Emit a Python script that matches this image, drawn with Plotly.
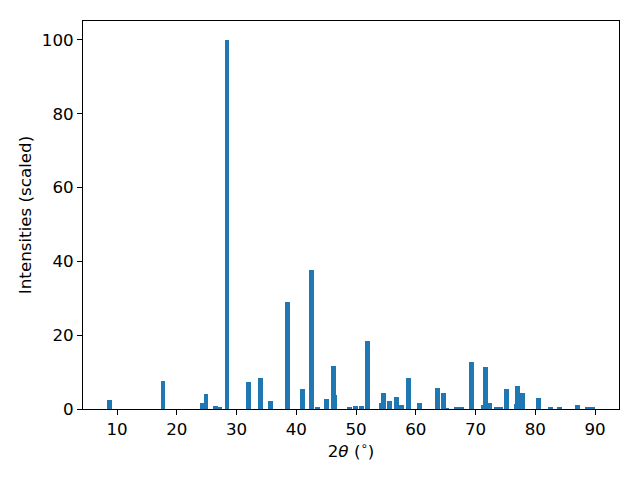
import plotly.graph_objects as go

two_theta = [8.7, 17.7, 24.3, 24.9, 26.5, 27.2, 28.4, 32.0, 34.0, 35.7, 38.5, 41.0,
             42.5, 43.6, 45.0, 46.2, 46.4, 48.9, 49.9, 50.9, 51.9, 54.25, 54.6,
             55.6, 56.7, 57.6, 58.8, 60.6, 63.6, 64.6, 65.2, 66.8, 67.6, 69.3,
             71.3, 71.7, 72.4, 73.4, 74.2, 75.2, 76.8, 77.0, 77.9, 80.5, 82.6,
             84.1, 87.0, 88.7, 89.5]
intensity = [2.4, 7.6, 1.6, 4.1, 0.8, 0.3, 100.0, 7.3, 8.4, 2.2, 29.0, 5.4,
             37.7, 0.3, 2.7, 11.7, 3.8, 0.5, 0.8, 0.8, 18.4, 1.6, 4.3,
             2.2, 3.3, 1.1, 8.4, 1.6, 5.7, 4.3, 0.2, 0.5, 0.5, 12.7,
             1.1, 11.4, 1.6, 0.3, 0.5, 5.4, 1.4, 6.2, 4.3, 3.0, 0.3,
             0.3, 1.1, 0.5, 0.5]
x_ticks = [10, 20, 30, 40, 50, 60, 70, 80, 90]
y_ticks = [0, 20, 40, 60, 80, 100]

fig = go.Figure(go.Bar(x=two_theta, y=intensity, width=0.8,
                       marker=dict(color="#1f77b4", line=dict(width=0))))

axis_common = dict(showline=True, linecolor="black", linewidth=1, mirror=True,
                   ticks="outside", ticklen=5, tickcolor="black", showgrid=False,
                   zeroline=False, automargin=False,
                   tickfont=dict(size=16.7, color="black"))
fig.update_xaxes(range=[4.3, 94.0], tickvals=x_ticks,
                 title=dict(text="2<i>θ</i> (<sup>∘</sup>)", font=dict(size=16.7, color="black"), standoff=7),
                 **axis_common)
fig.update_yaxes(range=[0, 105.1], tickvals=y_ticks,
                 title=dict(text="Intensities (scaled)", font=dict(size=16.7, color="black"), standoff=5),
                 **axis_common)
fig.update_layout(width=640, height=480, margin=dict(l=75, r=29, t=13, b=79),
                  plot_bgcolor="white", paper_bgcolor="white",
                  font=dict(family="DejaVu Sans", color="black"),
                  showlegend=False, bargap=0)
fig.write_html("out.html")
